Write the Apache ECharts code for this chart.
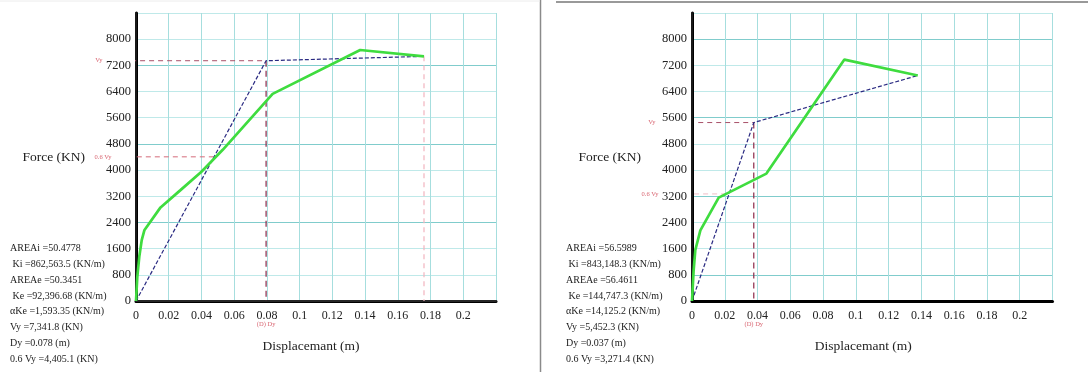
<!DOCTYPE html>
<html><head><meta charset="utf-8">
<script src="https://cdn.jsdelivr.net/npm/echarts@6/dist/echarts.min.js"></script>
<style>html,body{margin:0;padding:0;background:#fff}#c{width:1088px;height:372px}</style>
</head><body><div id="c"></div>
<script>
// ---- axis settings ----
const xMin = 0, xMax = 0.22, xStep = 0.02;
const yMin = 0, yMax = 8800, yStep = 800;

// ---- left chart data ----
const pushLeftX = [0, 0.0008, 0.002, 0.0035, 0.0051, 0.015, 0.027, 0.040, 0.053, 0.0835, 0.137, 0.176];
const pushLeftY = [0, 740, 1350, 1860, 2160, 2860, 3380, 3950, 4620, 6330, 7670, 7475];
const bilinLeftX = [0, 0.0795, 0.176];
const bilinLeftY = [0, 7341.8, 7475];
const vyLeft = 7341.8, dyLeft = 0.0795, vy06Left = 4405.1, dmaxLeft = 0.176, vEndLeft = 7475;
const vyLineStartLeft = -0.014, vy06LineStartLeft = -0.016;
const statsLeft = [
  "AREAi =50.4778", " Ki =862,563.5 (KN/m)", "AREAe =50.3451", " Ke =92,396.68 (KN/m)",
  "αKe =1,593.35 (KN/m)", "Vy =7,341.8 (KN)", "Dy =0.078 (m)", "0.6 Vy =4,405.1 (KN)"
];

// ---- right chart data ----
const pushRightX = [0, 0.001, 0.002, 0.0051, 0.0163, 0.0454, 0.093, 0.1378];
const pushRightY = [0, 938, 1550, 2160, 3160, 3893, 7377, 6890];
const bilinRightX = [0, 0.0377, 0.1378];
const bilinRightY = [0, 5452.3, 6890];
const vyRight = 5452.3, dyRight = 0.0377, vy06Right = 3271.4;
const vyLineStartRight = 0.0038, vy06LineStartRight = 0.0013;
const statsRight = [
  "AREAi =56.5989", " Ki =843,148.3 (KN/m)", "AREAe =56.4611", " Ke =144,747.3 (KN/m)",
  "αKe =14,125.2 (KN/m)", "Vy =5,452.3 (KN)", "Dy =0.037 (m)", "0.6 Vy =3,271.4 (KN)"
];

const axisName = "Force (KN)", xName = "Displacemant (m)";
const labelVy = "Vy", label06 = "0.6 Vy", labelDy = "(D) Dy";

const FONT = "Liberation Serif";
const zip = (xs, ys) => xs.map((x, i) => [x, ys[i]]);

const chart = echarts.init(document.getElementById('c'), null, {renderer: 'canvas'});

function xAxisCfg(grid, splitColor, nameRightPad) {
  return {
    type: 'value', gridIndex: grid, min: xMin, max: xMax, interval: xStep,
    name: xName, nameLocation: 'middle', nameGap: 38,
    nameTextStyle: {fontFamily: FONT, fontSize: 13.5, color: '#222', padding: [0, nameRightPad, 0, 0]},
    axisLine: {show: true, onZero: false, lineStyle: {color: '#000', width: 3}},
    axisTick: {show: false},
    axisLabel: {fontFamily: FONT, fontSize: 12, color: '#222', margin: 9, showMaxLabel: false,
      formatter: v => String(+v.toFixed(4))},
    splitLine: {show: true, lineStyle: {color: splitColor, width: 1}}
  };
}
function yAxisCfg(grid, colors) {
  return {
    type: 'value', gridIndex: grid, min: yMin, max: yMax, interval: yStep,
    name: axisName, nameLocation: 'middle', nameGap: 51, nameRotate: 0,
    nameTextStyle: {fontFamily: FONT, fontSize: 13.5, color: '#222', padding: [9, 0, 0, 0]},
    axisLine: {show: true, onZero: false, lineStyle: {color: '#000', width: 3}},
    axisTick: {show: false},
    axisLabel: {fontFamily: FONT, fontSize: 12.5, color: '#222', margin: 5, showMaxLabel: false,
      formatter: v => String(v)},
    splitLine: {show: true, lineStyle: {color: colors, width: 1}}
  };
}
function borderAxisX(grid) {
  return {type: 'value', gridIndex: grid, position: 'top', min: xMin, max: xMax,
    axisLine: {show: true, lineStyle: {color: '#333', width: 1.5}}, axisTick: {show: false},
    axisLabel: {show: false}, splitLine: {show: false}};
}
function borderAxisY(grid) {
  return {type: 'value', gridIndex: grid, position: 'right', min: yMin, max: yMax,
    axisLine: {show: true, lineStyle: {color: '#222', width: 1.5}}, axisTick: {show: false},
    axisLabel: {show: false}, splitLine: {show: false}};
}
function dashLine(xi, yi, data, color, dash, width) {
  return {type: 'line', xAxisIndex: xi, yAxisIndex: yi, data: data, symbol: 'none', clip: false,
    silent: true, lineStyle: {color: color, type: dash, width: width || 1}};
}
function labelSeries(xi, yi, vy, v06, dy, dVy, d06) {
  const base = {fontFamily: FONT, fontSize: 6.5, color: '#d0404f'};
  return {type: 'scatter', xAxisIndex: xi, yAxisIndex: yi, clip: false, silent: true, symbolSize: 1,
    itemStyle: {color: 'rgba(0,0,0,0)'}, z: 5,
    data: [
      {value: [0, vy], label: Object.assign({show: true, position: 'left', distance: dVy, formatter: labelVy}, base)},
      {value: [0, v06], label: Object.assign({show: true, position: 'left', distance: d06, formatter: label06}, base)},
      {value: [dy, 0], label: Object.assign({show: true, position: 'bottom', distance: 19, formatter: labelDy}, base)}
    ]};
}

const lightH = '#bfe9e9', darkH = '#80cccc', vCol = '#a6dede';

const graphics = [
  {type: 'line', shape: {x1: 540.5, y1: 0, x2: 540.5, y2: 372}, style: {stroke: '#8a8a8a', lineWidth: 1.5}, silent: true},
  {type: 'line', shape: {x1: 556, y1: 2, x2: 1088, y2: 2}, style: {stroke: '#777', lineWidth: 1.5}, silent: true},
  {type: 'line', shape: {x1: 0, y1: 1, x2: 540, y2: 1}, style: {stroke: '#ececec', lineWidth: 1}, silent: true}
];
const lineYs = [249.5, 265.5, 281.5, 297, 312.5, 328, 344, 360];
statsLeft.forEach((t, i) => graphics.push({type: 'text', left: 10, top: lineYs[i] - 6, silent: true,
  style: {text: t, font: '10px "' + FONT + '"', fill: '#222'}}));
statsRight.forEach((t, i) => graphics.push({type: 'text', left: 566, top: lineYs[i] - 6, silent: true,
  style: {text: t, font: '10px "' + FONT + '"', fill: '#222'}}));

const green = '#3fdc3f', blue = '#2a2a82';

chart.setOption({
  animation: false,
  backgroundColor: '#fff',
  grid: [
    {left: 136, top: 13, width: 360, height: 288},
    {left: 692, top: 13, width: 360.5, height: 288}
  ],
  xAxis: [xAxisCfg(0, vCol, 10), xAxisCfg(1, vCol, 18), borderAxisX(0)],
  yAxis: [yAxisCfg(0, [darkH, lightH, lightH]), yAxisCfg(1, [lightH, darkH, lightH]), borderAxisY(0), borderAxisY(1)],
  graphic: graphics,
  series: [
    // left chart
    dashLine(0, 0, [[vyLineStartLeft, vyLeft], [dyLeft, vyLeft]], '#a85068', [5, 4]),
    dashLine(0, 0, [[dyLeft, vyLeft], [dyLeft, 0]], '#8a2848', [6, 4], 1.2),
    dashLine(0, 0, [[vy06LineStartLeft, vy06Left], [vy06Left * dyLeft / vyLeft, vy06Left]], '#d46a7a', [5, 4]),
    dashLine(0, 0, [[dmaxLeft, vEndLeft], [dmaxLeft, 0]], '#f2b4be', [5, 4], 1.2),
    dashLine(0, 0, zip(bilinLeftX, bilinLeftY), blue, [4, 2], 1.2),
    {type: 'line', xAxisIndex: 0, yAxisIndex: 0, data: zip(pushLeftX, pushLeftY), symbol: 'none',
      lineStyle: {color: green, width: 2.7}, silent: true},
    labelSeries(0, 0, vyLeft, vy06Left, dyLeft, 33, 24),
    // right chart
    dashLine(1, 1, [[vyLineStartRight, vyRight], [dyRight, vyRight]], '#a85068', [5, 4]),
    dashLine(1, 1, [[dyRight, vyRight], [dyRight, 0]], '#8a2848', [6, 4], 1.2),
    dashLine(1, 1, [[vy06LineStartRight, vy06Right], [vy06Right * dyRight / vyRight, vy06Right]], '#f0bcc6', [5, 4]),
    dashLine(1, 1, zip(bilinRightX, bilinRightY), blue, [4, 2], 1.2),
    {type: 'line', xAxisIndex: 1, yAxisIndex: 1, data: zip(pushRightX, pushRightY), symbol: 'none',
      lineStyle: {color: green, width: 2.7}, silent: true},
    labelSeries(1, 1, vyRight, vy06Right, dyRight, 36, 33)
  ]
});
</script>
</body></html>
